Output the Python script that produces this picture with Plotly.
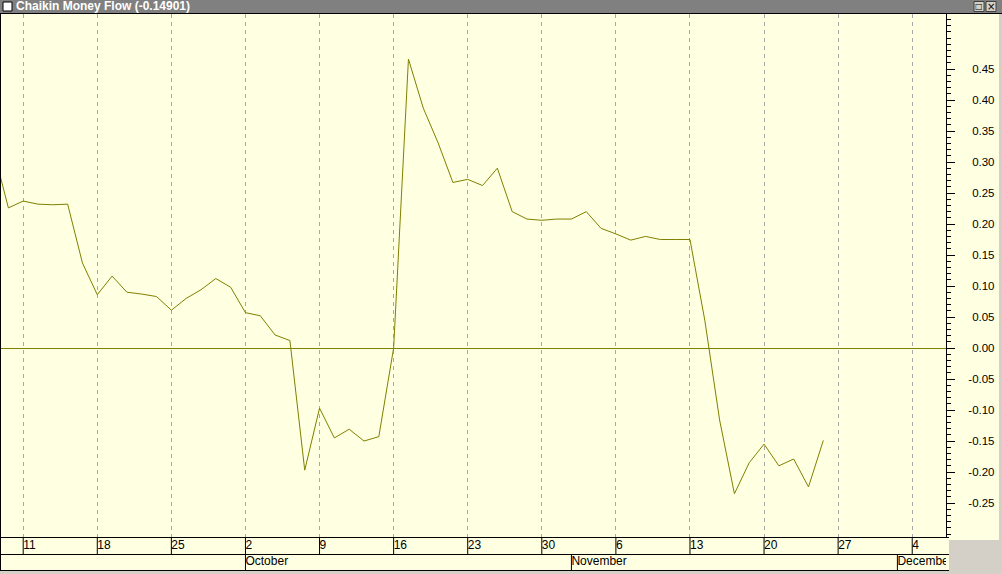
import plotly.graph_objects as go

# ---------------- data ----------------
dates = [
    "2006-09-07", "2006-09-08", "2006-09-11", "2006-09-12", "2006-09-13", "2006-09-14", "2006-09-15",
    "2006-09-18", "2006-09-19", "2006-09-20", "2006-09-21", "2006-09-22",
    "2006-09-25", "2006-09-26", "2006-09-27", "2006-09-28", "2006-09-29",
    "2006-10-02", "2006-10-03", "2006-10-04", "2006-10-05", "2006-10-06",
    "2006-10-09", "2006-10-10", "2006-10-11", "2006-10-12", "2006-10-13",
    "2006-10-16", "2006-10-17", "2006-10-18", "2006-10-19", "2006-10-20",
    "2006-10-23", "2006-10-24", "2006-10-25", "2006-10-26", "2006-10-27",
    "2006-10-30", "2006-10-31", "2006-11-01", "2006-11-02", "2006-11-03",
    "2006-11-06", "2006-11-07", "2006-11-08", "2006-11-09", "2006-11-10",
    "2006-11-13", "2006-11-14", "2006-11-15", "2006-11-16", "2006-11-17",
    "2006-11-20", "2006-11-21", "2006-11-22", "2006-11-23", "2006-11-24",
]
cmf = [
    0.319, 0.226, 0.237, 0.232, 0.231, 0.232, 0.137,
    0.086, 0.116, 0.090, 0.087, 0.083,
    0.061, 0.080, 0.094, 0.112, 0.098,
    0.057, 0.052, 0.021, 0.012, -0.197,
    -0.097, -0.145, -0.131, -0.150, -0.143,
    0.000, 0.466, 0.387, 0.331, 0.267,
    0.272, 0.262, 0.290, 0.220, 0.208,
    0.206, 0.208, 0.208, 0.220, 0.193,
    0.184, 0.174, 0.180, 0.175, 0.175,
    0.175, 0.045, -0.116, -0.235, -0.185,
    -0.155, -0.190, -0.179, -0.224, -0.149,
]
week_dates = ["2006-09-11", "2006-09-18", "2006-09-25", "2006-10-02", "2006-10-09", "2006-10-16",
              "2006-10-23", "2006-10-30", "2006-11-06", "2006-11-13", "2006-11-20", "2006-11-27",
              "2006-12-04"]
week_labels = ["11", "18", "25", "2", "9", "16", "23", "30", "6", "13", "20", "27", "4"]
month_dates = ["2006-10-02", "2006-11-01", "2006-12-01"]
month_labels = ["October", "November", "December"]
y_major = [-0.30, -0.25, -0.20, -0.15, -0.10, -0.05, 0.00, 0.05, 0.10, 0.15, 0.20, 0.25, 0.30, 0.35, 0.40, 0.45, 0.50]
y_labeled = [-0.25, -0.20, -0.15, -0.10, -0.05, 0.00, 0.05, 0.10, 0.15, 0.20, 0.25, 0.30, 0.35, 0.40, 0.45]
title_text = "Chaikin Money Flow (-0.14901)"

# ---------------- styling ----------------
W, H = 1002, 574
BG = "#FFFFE1"
OLIVE = "#808000"
GRAY = "#D4D0C8"
FONT = "Liberation Sans"


def px(x):
    return x / W


def py(y):
    return 1 - y / H


x_range = ["2006-09-07 10:25", "2006-12-06 06:43"]
y_range = [-0.3048, 0.5387]
rb = [dict(bounds=["sat", "mon"])]

ticktext = []
for v in y_major:
    if any(abs(v - t) < 1e-9 for t in y_labeled):
        s = f"{v:.2f}"
        if v >= 0:
            s = "\u2004" + s
        ticktext.append(s)
    else:
        ticktext.append("")
minor_vals = [round(-0.30 + 0.01 * i, 2) for i in range(0, 85)]

fig = go.Figure()

fig.add_trace(go.Scatter(
    x=dates, y=cmf, mode="lines", line=dict(color=OLIVE, width=1),
    xaxis="x", yaxis="y", showlegend=False, hoverinfo="skip"))

fig.add_trace(go.Scatter(
    x=week_dates, y=[1.5] * len(week_dates), mode="text", text=week_labels,
    textposition="middle right", textfont=dict(family=FONT, size=12, color="black"),
    cliponaxis=True, xaxis="x2", yaxis="y2", showlegend=False, hoverinfo="skip"))

fig.add_trace(go.Scatter(
    x=month_dates, y=[0.5] * len(month_dates), mode="text", text=month_labels,
    textposition="middle right", textfont=dict(family=FONT, size=12, color="black"),
    cliponaxis=True, xaxis="x2", yaxis="y2", showlegend=False, hoverinfo="skip"))

shapes = []
# lower rows separators
for d in week_dates:
    shapes.append(dict(type="line", xref="x2", yref="y2", x0=d, x1=d, y0=1, y1=2,
                       line=dict(color="black", width=1)))
for d in month_dates:
    shapes.append(dict(type="line", xref="x2", yref="y2", x0=d, x1=d, y0=0, y1=1,
                       line=dict(color="black", width=1)))
for yy in (537.5, 554.5, 570.5):
    shapes.append(dict(type="line", xref="paper", yref="paper", x0=0, x1=px(949), y0=py(yy), y1=py(yy),
                       line=dict(color="black", width=1)))
# left border
shapes.append(dict(type="line", xref="paper", yref="paper", x0=px(0.5), x1=px(0.5), y0=py(570), y1=py(14),
                   line=dict(color="black", width=1)))
# bottom strip and corner box
shapes.append(dict(type="rect", xref="paper", yref="paper", x0=0, x1=1, y0=0, y1=py(571),
                   fillcolor=GRAY, line=dict(width=0), layer="above"))
shapes.append(dict(type="rect", xref="paper", yref="paper", x0=px(949), x1=1, y0=0, y1=py(540),
                   fillcolor=GRAY, line=dict(width=0), layer="above"))
shapes.append(dict(type="rect", xref="paper", yref="paper", x0=px(999), x1=1, y0=0, y1=py(14),
                   fillcolor=GRAY, line=dict(width=0), layer="above"))
# title bar
shapes.append(dict(type="rect", xref="paper", yref="paper", x0=0, x1=1, y0=py(13), y1=1,
                   fillcolor="#808080", line=dict(width=0), layer="above"))
shapes.append(dict(type="line", xref="paper", yref="paper", x0=0, x1=1, y0=py(13.5), y1=py(13.5),
                   line=dict(color="black", width=1), layer="above"))
shapes.append(dict(type="rect", xref="paper", yref="paper", x0=px(3), x1=px(12), y0=py(11), y1=py(2),
                   fillcolor="white", line=dict(color="black", width=1), layer="above"))
for bx in (974, 986):
    shapes.append(dict(type="rect", xref="paper", yref="paper", x0=px(bx), x1=px(bx + 10), y0=py(11.5), y1=py(1.5),
                       fillcolor=GRAY, line=dict(color="#404040", width=1), layer="above"))

annotations = [
    dict(text=f"<b>{title_text}</b>", xref="paper", yref="paper", x=px(14), y=py(6.5),
         xanchor="left", yanchor="middle", showarrow=False,
         font=dict(family=FONT, size=12, color="white")),
    dict(text="\u25a1", xref="paper", yref="paper", x=px(979), y=py(6.5), xanchor="center", yanchor="middle",
         showarrow=False, font=dict(family="DejaVu Sans", size=8, color="black")),
    dict(text="\u00d7", xref="paper", yref="paper", x=px(991), y=py(6.5), xanchor="center", yanchor="middle",
         showarrow=False, font=dict(family="DejaVu Sans", size=10, color="black")),
]

fig.update_layout(
    width=W, height=H, margin=dict(l=0, r=0, t=0, b=0),
    paper_bgcolor=BG, plot_bgcolor=BG, showlegend=False,
    xaxis=dict(domain=[0, px(946)], range=x_range, type="date", rangebreaks=rb,
               tickmode="array", tickvals=week_dates, showticklabels=False, ticks="",
               showgrid=True, gridcolor="#A8A8A8", gridwidth=1, griddash="4px,4px",
               zeroline=False, showline=False, anchor="y", fixedrange=True),
    yaxis=dict(domain=[py(537), py(14)], range=y_range, side="right", anchor="x",
               tickmode="array", tickvals=y_major, ticktext=ticktext,
               ticks="outside", ticklen=8, tickcolor="black", tickwidth=1,
               ticklabelstandoff=11,
               tickfont=dict(family=FONT, size=11.5, color="black"),
               minor=dict(tickmode="array", tickvals=minor_vals, ticks="outside", ticklen=4,
                          tickcolor="black", tickwidth=1, showgrid=False),
               showgrid=False, zeroline=True, zerolinecolor=OLIVE, zerolinewidth=1,
               showline=True, linecolor="black", linewidth=1, fixedrange=True),
    xaxis2=dict(domain=[0, px(946)], matches="x", type="date", rangebreaks=rb, anchor="y2",
                showticklabels=False, ticks="", showgrid=False, zeroline=False, showline=False,
                fixedrange=True),
    yaxis2=dict(domain=[py(570.5), py(537.5)], range=[0, 2], anchor="x2", visible=False,
                fixedrange=True),
    shapes=shapes, annotations=annotations,
)

fig.write_html("out.html", config=dict(displayModeBar=False),
               post_script="document.body.style.margin='0';document.body.style.padding='0';")
